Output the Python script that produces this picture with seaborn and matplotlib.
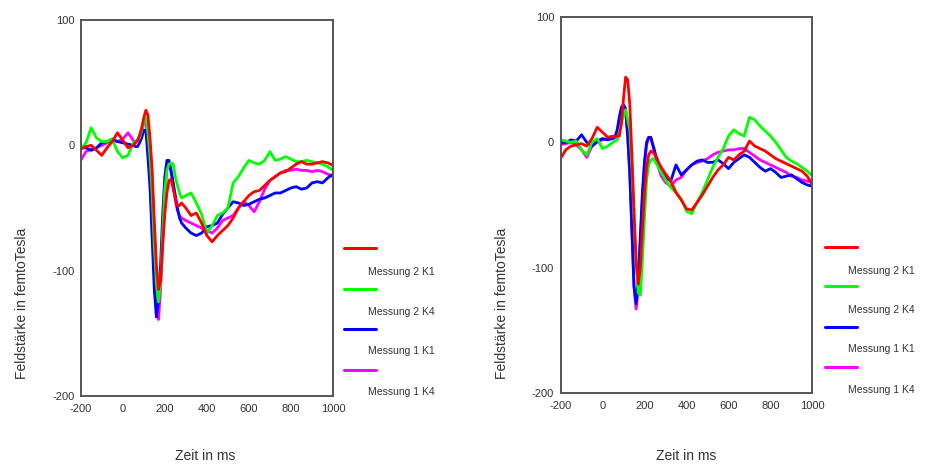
import numpy as np
import pandas as pd
import matplotlib
matplotlib.use("Agg")
import matplotlib.pyplot as plt
import seaborn as sns
from matplotlib.lines import Line2D

sns.set_style("white")
plt.rcParams['font.family'] = ['Liberation Sans', 'DejaVu Sans']
plt.rcParams['axes.unicode_minus'] = False

# ---- data ----
time_ms = [-200, -175, -150, -125, -100, -75, -50, -25, 0, 25, 50,
           60, 70, 80, 90, 100, 110, 120, 130, 140, 150, 160, 170, 180, 190,
           200, 210, 220, 230, 240, 250, 260, 270, 280,
           300, 325, 350, 375, 400, 425, 450, 475, 500, 525, 550, 575, 600,
           625, 650, 675, 700, 725, 750, 775, 800, 825, 850, 875, 900, 925,
           950, 975, 1000]

series_names = ["Messung 2 K1", "Messung 2 K4", "Messung 1 K1", "Messung 1 K4"]
series_colors = ["#ff0000", "#00ff00", "#0000ff", "#ff00ff"]

# left panel
left_m2k1 = [-3, -1, 0, -4, -8, -2, 3, 10, 4, -2, 0,
             2, 4, 8, 14, 22, 28, 24, 5, -20, -60, -95, -115, -108, -80,
             -55, -38, -28, -27, -35, -42, -48, -48, -46,
             -50, -56, -54, -62, -72, -77, -72, -68, -64, -58, -50, -45, -40,
             -37, -36, -32, -28, -25, -22, -21, -18, -15, -13, -15, -15, -14,
             -13, -14, -16]
left_m2k4 = [-3, 2, 14, 6, 3, 3, 5, -5, -10, -8, 2,
             3, 4, 6, 12, 20, 22, 10, -10, -40, -80, -110, -125, -110, -70,
             -35, -20, -15, -14, -15, -25, -32, -38, -42,
             -40, -38, -46, -55, -70, -64, -56, -54, -50, -30, -25, -18, -12,
             -14, -15, -12, -5, -12, -11, -9, -11, -13, -13, -12, -13, -14,
             -15, -17, -20]
left_m1k1 = [-2, -2, -4, -2, 2, 3, 5, 3, 2, 1, 0,
             -1, -1, 2, 6, 12, 12, -10, -35, -75, -115, -137, -125, -95, -55,
             -25, -12, -12, -20, -30, -40, -50, -58, -62,
             -66, -70, -72, -70, -65, -64, -62, -55, -50, -45, -46, -48, -47,
             -45, -43, -42, -40, -38, -38, -36, -34, -33, -35, -34, -30, -29,
             -30, -26, -23]
left_m1k4 = [-12, -5, -3, -2, 0, 2, 4, 3, 5, 10, 4,
             2, 4, 6, 10, 18, 20, 0, -25, -60, -100, -130, -139, -115, -75,
             -40, -18, -14, -22, -32, -44, -52, -56, -58,
             -60, -62, -64, -66, -68, -70, -66, -60, -58, -56, -50, -45, -48,
             -53, -45, -35, -28, -25, -22, -20, -20, -19, -20, -20, -21, -20,
             -21, -23, -25]

# right panel
right_m2k1 = [-13, -6, -3, -2, -1, -3, 3, 12, 8, 4, 5,
              4, 5, 5, 15, 35, 52, 50, 30, -10, -55, -95, -113, -100, -70,
              -40, -20, -10, -7, -8, -10, -13, -17, -20,
              -25, -31, -40, -46, -53, -54, -48, -42, -35, -28, -22, -18, -12,
              -14, -10, -7, 1, -3, -5, -7, -10, -13, -15, -17, -19, -21,
              -23, -27, -34]
right_m2k4 = [2, 1, 0, 1, -6, -10, 0, 3, -5, -3, 0,
              1, 2, 8, 15, 22, 26, 18, 10, -20, -60, -95, -120, -122, -95,
              -60, -30, -18, -14, -13, -15, -18, -21, -24,
              -30, -36, -40, -45, -55, -57, -48, -40, -30, -20, -12, -5, 5,
              10, 7, 5, 20, 18, 13, 9, 5, 0, -6, -12, -15, -17,
              -20, -23, -27]
right_m1k1 = [0, 0, 2, 1, 6, 0, -3, 1, 3, 2, 3,
              5, 10, 20, 28, 30, 27, 5, -25, -70, -115, -129, -110, -75, -40,
              -15, 0, 4, 4, -2, -8, -14, -19, -22,
              -28, -31, -18, -26, -22, -18, -15, -14, -16, -16, -14, -17, -21,
              -16, -13, -10, -12, -16, -20, -23, -21, -24, -28, -27, -26, -29,
              -32, -34, -35]
right_m1k4 = [-2, -1, 0, -2, -6, -12, -3, 0, 2, 3, 3,
              4, 8, 18, 26, 28, 25, 5, -25, -70, -115, -133, -118, -80, -45,
              -18, -2, 4, 4, -3, -10, -16, -22, -27,
              -32, -35, -30, -28, -22, -18, -16, -15, -13, -10, -8, -7, -6,
              -6, -5, -5, -8, -11, -14, -16, -18, -20, -22, -24, -27, -28,
              -30, -31, -32]

x_ticks = [-200, 0, 200, 400, 600, 800, 1000]
y_ticks = [-200, -100, 0, 100]
x_label = "Zeit in ms"
y_label = "Feldstärke in femtoTesla"


def make_df(vals):
    rows = []
    for name, v in zip(series_names, vals):
        rows.append(pd.DataFrame({"t": time_ms, "v": v, "serie": name}))
    return pd.concat(rows, ignore_index=True)


palette = dict(zip(series_names, series_colors))
draw_order = ["Messung 1 K4", "Messung 1 K1", "Messung 2 K4", "Messung 2 K1"]

W, H = 939, 466
fig = plt.figure(figsize=(W / 100, H / 100), dpi=100)

panels = [
    dict(vals=[left_m2k1, left_m2k4, left_m1k1, left_m1k4],
         box=(80.7, 20, 333, 396), ylab=(22, 303), xlab=(205, 456),
         leg_x=(344, 376), leg_y=[248, 289, 329, 370],
         txt_x=368, txt_y=[272, 312, 351, 392]),
    dict(vals=[right_m2k1, right_m2k4, right_m1k1, right_m1k4],
         box=(560.5, 17, 812.5, 393), ylab=(502, 303), xlab=(686, 456),
         leg_x=(825, 857), leg_y=[247, 286, 327, 367],
         txt_x=848, txt_y=[271, 310, 349, 390]),
]

spine_col = "#555555"
for p in panels:
    x0, y0, x1, y1 = p["box"]
    ax = fig.add_axes([x0 / W, 1 - y1 / H, (x1 - x0) / W, (y1 - y0) / H])
    df = make_df(p["vals"])
    sns.lineplot(data=df, x="t", y="v", hue="serie", hue_order=draw_order,
                 palette=palette, legend=False, ax=ax, linewidth=2.0,
                 estimator=None, sort=False)
    ax.set_xlim(-200, 1000)
    ax.set_ylim(-200, 100)
    ax.set_xticks(x_ticks)
    ax.set_yticks(y_ticks)
    ax.set_xlabel("")
    ax.set_ylabel("")
    for s in ax.spines.values():
        s.set_visible(True)
        s.set_color(spine_col)
        s.set_linewidth(1.4)
    ax.tick_params(axis="both", direction="out", length=2.5, width=1.5,
                   color="#111111", labelsize=8, labelcolor="#333333")
    ax.tick_params(axis="x", pad=3.5)
    ax.tick_params(axis="y", pad=2)
    fig.text(p["ylab"][0] / W, 1 - p["ylab"][1] / H, y_label, rotation=90,
             ha="center", va="center", fontsize=10, color="#333333")
    fig.text(p["xlab"][0] / W, 1 - p["xlab"][1] / H, x_label,
             ha="center", va="center", fontsize=10, color="#333333")
    for name, ly, ty in zip(series_names, p["leg_y"], p["txt_y"]):
        fig.add_artist(Line2D([p["leg_x"][0] / W, p["leg_x"][1] / W],
                              [1 - ly / H, 1 - ly / H],
                              color=palette[name], linewidth=2.2,
                              transform=fig.transFigure))
        fig.text(p["txt_x"] / W, 1 - ty / H, name, ha="left", va="center",
                 fontsize=7.5, color="#333333")

fig.savefig("out.png", dpi=100)
